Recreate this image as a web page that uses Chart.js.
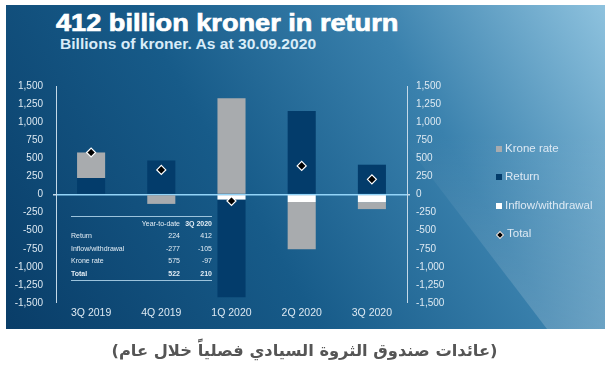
<!DOCTYPE html>
<html>
<head>
<meta charset="utf-8">
<script src="https://cdn.jsdelivr.net/npm/chart.js@4.4.1/dist/chart.umd.min.js"></script>
<style>
  html, body { margin: 0; padding: 0; background: #fff; }
  body { width: 609px; height: 370px; position: relative; overflow: hidden; font-family: "Liberation Sans", Arial, sans-serif; }
  #panel {
    position: absolute; left: 6px; top: 5px; width: 599px; height: 324px;
    background: linear-gradient(60deg, #093d68 0%, #175b89 40%, #3a81ad 70%, #8ec2de 100%);
    overflow: hidden;
  }
  #shade {
    position: absolute; left: 0; top: 0; width: 599px; height: 324px;
    background: linear-gradient(180deg, rgba(255,255,255,0) 40%, rgba(255,255,255,0.18) 100%);
    clip-path: polygon(294px 0px, 599px 0px, 599px 324px, 541px 324px);
  }
  #title { position: absolute; left: 56px; top: 10px; color: #fff; font-weight: bold; font-size: 23px;
           -webkit-text-stroke: 0.7px #fff;
           transform: scaleX(1.18); transform-origin: left top; white-space: nowrap; }
  #subtitle { position: absolute; left: 60px; top: 35px; color: #d8ecf8; font-weight: bold; font-size: 15px;
              transform: scaleX(1.04); transform-origin: left top; white-space: nowrap; }
  canvas { position: absolute; left: 0; top: 0; }
  #legend { position: absolute; left: 496px; top: 142px; color: #dde9f3; font-size: 11.5px; }
  #legend div { height: 28.4px; display: flex; align-items: flex-start; }
  #legend span.sw { display: inline-block; width: 6px; height: 6px; margin: 4px 3px 0 0; }
  #tbl { position: absolute; left: 71px; top: 216px; width: 141px; color: #e3edf5; font-size: 7px;
         border-top: 1px solid #9cc3dc; border-bottom: 1px solid #9cc3dc; }
  #tbl table { width: 100%; border-collapse: collapse; }
  #tbl td { padding: 0; height: 12.5px; }
  #tbl td.n { text-align: right; }
  #caption { position: absolute; left: 0; width: 609px; top: 341px; text-align: center;
             font-family: "DejaVu Sans", sans-serif; font-weight: bold; font-size: 16.3px; color: #555; }
</style>
</head>
<body>
<div id="panel"><div id="shade"></div></div>
<div id="title">412 billion kroner in return</div>
<div id="subtitle">Billions of kroner. As at 30.09.2020</div>
<canvas id="c" width="609" height="370"></canvas>
<div id="tbl">
  <table>
    <tr><td></td><td class="n">Year-to-date</td><td class="n"><b>3Q 2020</b></td></tr>
    <tr><td>Return</td><td class="n">224</td><td class="n">412</td></tr>
    <tr><td>Inflow/withdrawal</td><td class="n">-277</td><td class="n">-105</td></tr>
    <tr><td>Krone rate</td><td class="n">575</td><td class="n">-97</td></tr>
    <tr><td><b>Total</b></td><td class="n"><b>522</b></td><td class="n"><b>210</b></td></tr>
  </table>
</div>
<div id="legend"></div>
<div id="caption" dir="rtl">(عائدات صندوق الثروة السيادي فصلياً خلال عام)</div>
<script>
const quarters = ["3Q 2019", "4Q 2019", "1Q 2020", "2Q 2020", "3Q 2020"];
const inflowWithdrawal = [0, 0, -70, -104, -105];
const returnValues = [228, 470, -1350, 1153, 412];
const kroneRate = [353, -130, 1330, -654, -97];
const totalValues = [581, 340, -90, 395, 210];
const yTicks = [1500, 1250, 1000, 750, 500, 250, 0, -250, -500, -750, -1000, -1250, -1500];

const greyCol = "#a8abae";
const navyCol = "#033c6b";
const axisCol = "#c4d9e8";
const labelCol = "#dde9f2";

const fmt = v => v.toLocaleString("en-US");

const yAxis = (pos, width, pad) => ({
  position: pos,
  stacked: true,
  min: -1500,
  max: 1500,
  afterBuildTicks: s => { s.ticks = yTicks.map(v => ({ value: v })); },
  afterFit: s => { s.width = width; },
  border: { display: true, color: axisCol, width: 1 },
  grid: {
    drawOnChartArea: pos === "left",
    color: c => (c.tick && c.tick.value === 0 ? "#93d4f8" : "rgba(0,0,0,0)"),
    lineWidth: c => (c.tick && c.tick.value === 0 ? 1.5 : 0),
    tickColor: axisCol,
    tickLength: 3,
    drawTicks: true
  },
  ticks: {
    color: labelCol,
    font: { family: "Liberation Sans", size: 10 },
    padding: pad,
    callback: v => fmt(v)
  }
});

new Chart(document.getElementById("c"), {
  data: {
    labels: quarters,
    datasets: [
      { type: "bar", label: "Inflow/withdrawal", data: inflowWithdrawal, backgroundColor: "#ffffff", stack: "s", order: 1 },
      { type: "bar", label: "Return", data: returnValues, backgroundColor: navyCol, stack: "s", order: 1 },
      { type: "bar", label: "Krone rate", data: kroneRate, backgroundColor: greyCol, stack: "s", order: 1 },
      {
        type: "line", label: "Total", data: totalValues, stack: "t", order: 0, showLine: false,
        pointStyle: "rectRot", pointRadius: 4.5, pointBackgroundColor: "#000",
        pointBorderColor: "#fff", pointBorderWidth: 1.2
      }
    ]
  },
  options: {
    responsive: false,
    animation: false,
    layout: { padding: { left: 0, right: 152, top: 86, bottom: 46 } },
    datasets: { bar: { categoryPercentage: 1, barPercentage: 0.4 } },
    plugins: { legend: { display: false }, tooltip: { enabled: false } },
    scales: {
      x: {
        stacked: true,
        afterFit: s => { s.height = 21; },
        grid: { display: false, drawTicks: false, tickLength: 0 },
        border: { display: false },
        ticks: { color: labelCol, font: { family: "Liberation Sans", size: 10.5 }, padding: 4 }
      },
      y: yAxis("left", 56, 10),
      y2: yAxis("right", 50, 6)
    }
  }
});

// legend, same order as in the reference
const legendItems = [
  ["Krone rate", greyCol],
  ["Return", navyCol],
  ["Inflow/withdrawal", "#ffffff"],
  ["Total", null]
];
const leg = document.getElementById("legend");
legendItems.forEach(([name, col]) => {
  const row = document.createElement("div");
  const sw = document.createElement("span");
  sw.className = "sw";
  if (col) {
    sw.style.background = col;
  } else {
    sw.style.background = "#000";
    sw.style.border = "1px solid #fff";
    sw.style.width = "4px"; sw.style.height = "4px";
    sw.style.transform = "rotate(45deg)";
    sw.style.margin = "5px 4px 0 1px";
  }
  row.appendChild(sw);
  row.appendChild(document.createTextNode(name));
  leg.appendChild(row);
});
</script>
</body>
</html>
